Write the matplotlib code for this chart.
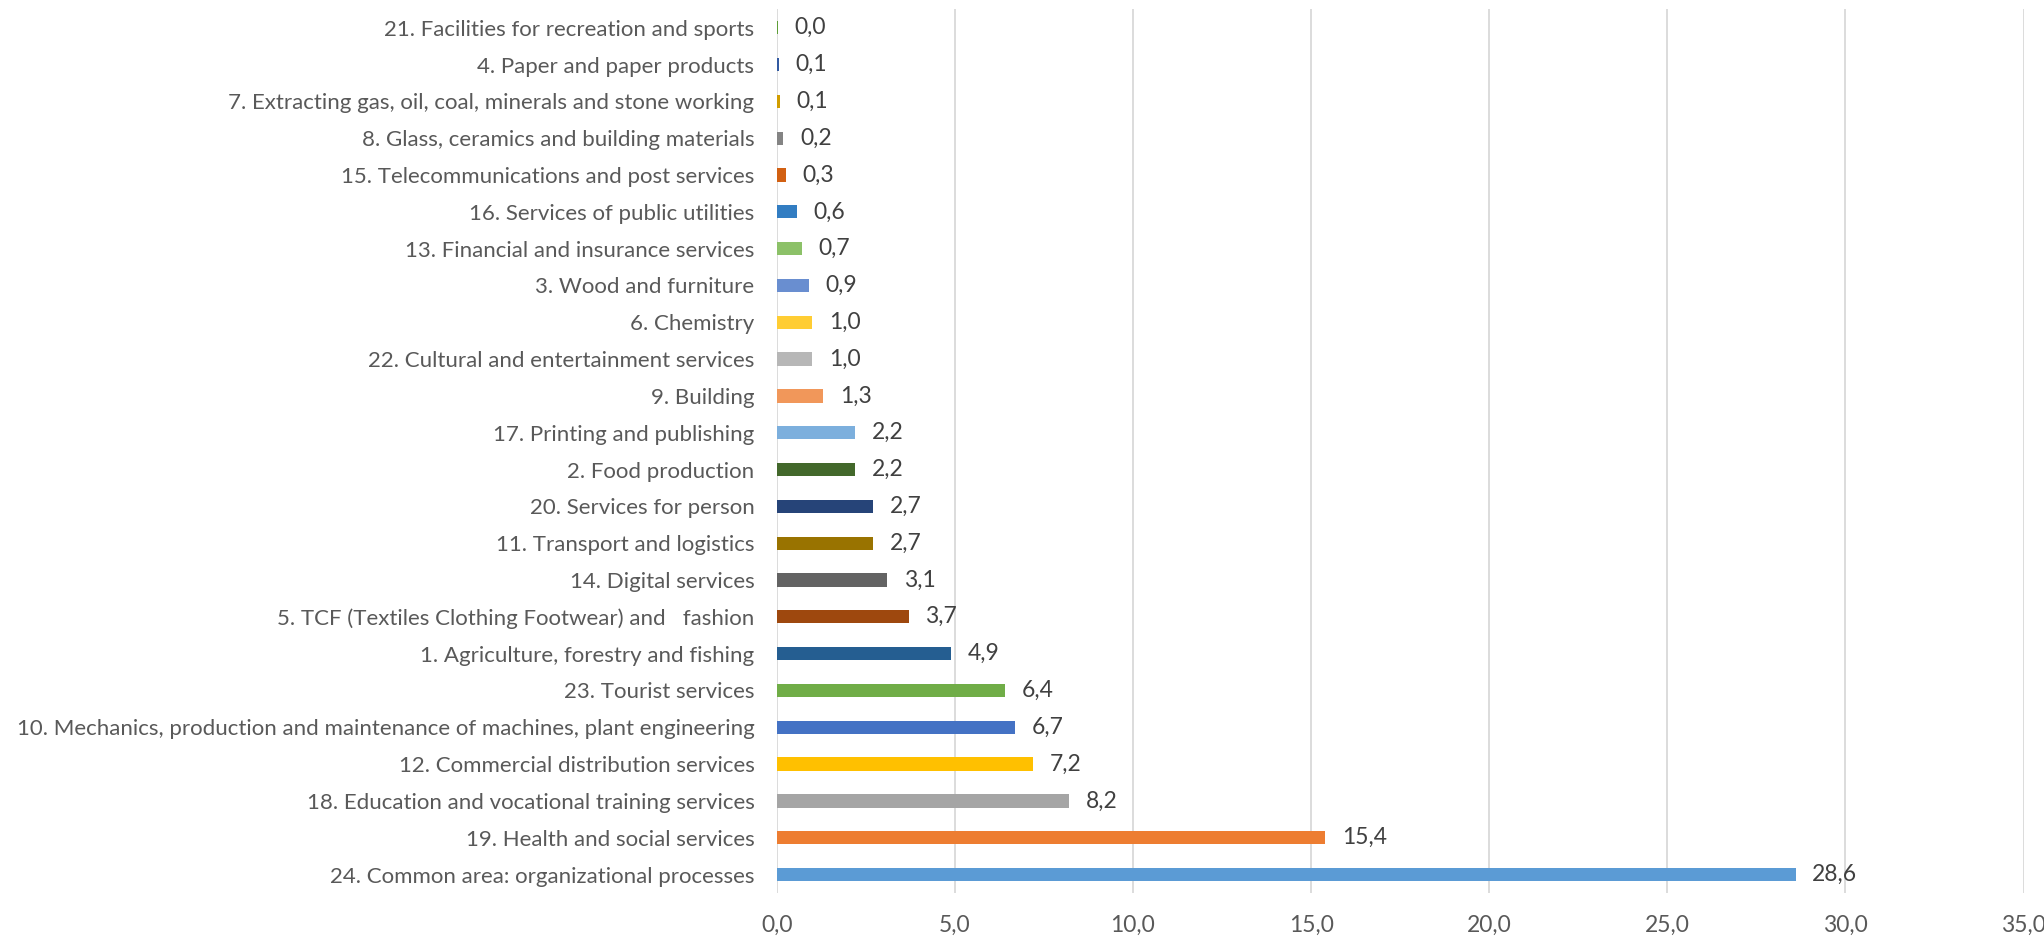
import numpy as np
import matplotlib
matplotlib.use('Agg')
from matplotlib import pyplot as plt
from matplotlib.ticker import FuncFormatter

# sectors, bottom to top as they appear in the chart
sectors = [
    '24. Common area: organizational processes',
    '19. Health and social services',
    '18. Education and vocational training services',
    '12. Commercial distribution services',
    '10. Mechanics, production and maintenance of machines, plant engineering',
    '23. Tourist services',
    '1. Agriculture, forestry and fishing',
    '5. TCF (Textiles Clothing Footwear) and   fashion',
    '14. Digital services',
    '11. Transport and logistics',
    '20. Services for person',
    '2. Food production',
    '17. Printing and publishing',
    '9. Building',
    '22. Cultural and entertainment services',
    '6. Chemistry',
    '3. Wood and furniture',
    '13. Financial and insurance services',
    '16. Services of public utilities',
    '15. Telecommunications and post services',
    '8. Glass, ceramics and building materials',
    '7. Extracting gas, oil, coal, minerals and stone working',
    '4. Paper and paper products',
    '21. Facilities for recreation and sports',
]
shares = [28.6, 15.4, 8.2, 7.2, 6.7, 6.4, 4.9, 3.7, 3.1, 2.7, 2.7, 2.2,
          2.2, 1.3, 1.0, 1.0, 0.9, 0.7, 0.56, 0.26, 0.19, 0.08, 0.06, 0.04]
colors = ['#5B9BD5', '#ED7D31', '#A5A5A5', '#FFC000', '#4472C4', '#70AD47',
          '#255E91', '#9E480E', '#636363', '#997300', '#264478', '#43682B',
          '#7CAFDD', '#F1975A', '#B7B7B7', '#FFCD33', '#698ED0', '#8CC168',
          '#327DC2', '#D26012', '#848484', '#D19D00', '#335AA1', '#5E9E37']

plt.rcParams['font.family'] = ['Lato', 'DejaVu Sans']

fig = plt.figure(figsize=(20.44, 9.36), dpi=100)
ax = fig.add_axes([0.380, 0.046, 0.610, 0.944])

y = np.arange(len(sectors))
ax.barh(y, shares, height=0.36, color=colors, zorder=3)

def comma(v):
    return f'{v:.1f}'.replace('.', ',')

for i, v in enumerate(shares):
    ax.annotate(comma(v), (v, i), xytext=(12, 0), textcoords='offset points',
                va='center', ha='left', fontsize=16.5, color='#404040')

ax.set_xlim(0, 35)
ax.set_ylim(-0.5, len(sectors) - 0.5)
ax.set_xticks(np.arange(0, 36, 5))
ax.xaxis.set_major_formatter(FuncFormatter(lambda v, p: comma(v)))
ax.set_yticks(y)
ax.set_yticklabels(sectors)
ax.tick_params(axis='y', length=0, pad=16, labelsize=16, labelcolor='#595959')
ax.tick_params(axis='x', length=0, pad=16, labelsize=16.5, labelcolor='#595959')
ax.grid(axis='x', color='#D9D9D9', linewidth=1.3, zorder=0)
for s in ax.spines.values():
    s.set_visible(False)

plt.savefig('out.png', dpi=100)
plt.close()
